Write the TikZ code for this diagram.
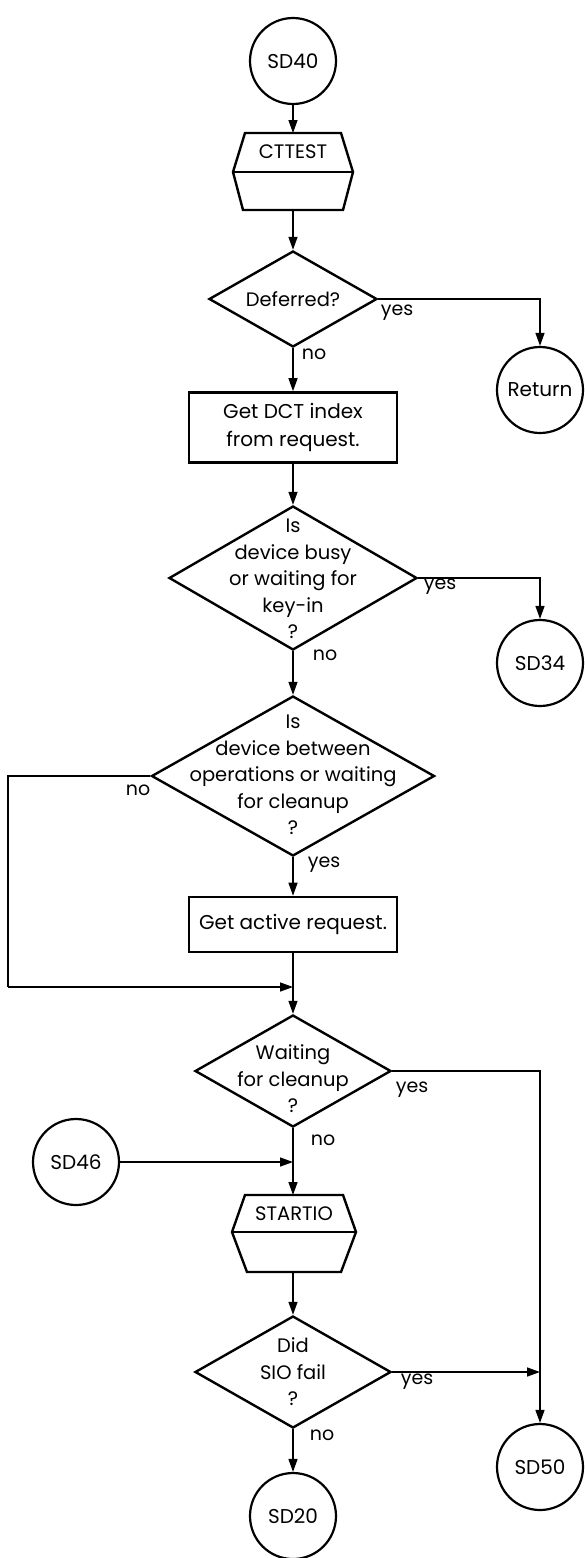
\documentclass[tikz,border=0pt]{standalone}
\usepackage{fontspec}
\setmainfont{Poppins}
\usetikzlibrary{arrows.meta,shapes.geometric}
\tikzset{
  txt/.style={font=\fontsize{19.5}{26.5}\selectfont, align=center, inner sep=0pt},
  lbl/.style={font=\fontsize{19}{20}\selectfont, inner sep=0pt},
  conn/.style={line width=1.4pt, -{Triangle[length=13pt,width=9pt]}},
  plain/.style={line width=1.4pt},
  term/.style={circle, draw, line width=2.2pt, minimum size=86pt, inner sep=0pt, font=\fontsize{20}{22}\selectfont},
  dec/.style={diamond, draw, line width=2.4pt, inner sep=0pt},
  proc/.style={rectangle, draw, line width=2.6pt, inner sep=0pt, minimum width=208pt, font=\fontsize{20}{28}\selectfont, align=center},
  hexa/.style={draw, line width=2.4pt, line join=miter}
}
\begin{document}
\begin{tikzpicture}[x=1pt,y=-1pt]
\useasboundingbox (0,0) rectangle (584,1558);
% terminals
\node[term] (sd40) at (293,61) {SD40};
\node[term] (ret) at (540,390) {Return};
\node[term] (sd34) at (540,663) {SD34};
\node[term] (sd46) at (76,1162) {SD46};
\node[term] (sd50) at (540,1467) {SD50};
\node[term] (sd20) at (293,1516) {SD20};
% CTTEST hexagon
\coordinate (ctt) at (293,133);
\coordinate (ctb) at (293,210);
\draw[hexa] (245,133) -- (341,133) -- (353,172) -- (343,210) -- (243,210) -- (233,172) -- cycle;
\draw[hexa] (233,172) -- (353,172);
\node[txt] (ct) at (293,152) {CTTEST};
% Deferred
\node[dec, minimum width=168pt, minimum height=96pt] (d1) at (293,299) {};
\node[txt] (d1t) at (d1) {Deferred?};
% Get DCT index box
\node[proc, minimum height=70pt] (b1) at (293,427.5) {Get DCT index\\from request.};
% busy diamond
\node[dec, minimum width=248pt, minimum height=144pt] (d2) at (293,578) {};
\node[txt] (d2t) at (293,579) {Is\\device busy\\or waiting for\\key-in\\?};
% between diamond
\node[dec, minimum width=283pt, minimum height=160pt] (d3) at (293,776) {};
\node[txt] (d3t) at (293,775) {Is\\device between\\operations or waiting\\for cleanup\\?};
% Get active request box
\node[proc, minimum height=55pt] (b2) at (293,924.5) {Get active request.};
% Waiting diamond
\node[dec, minimum width=196pt, minimum height=112pt] (d4) at (293,1071) {};
\node[txt] (d4t) at (293,1079) {Waiting\\for cleanup\\?};
% STARTIO hexagon
\coordinate (stt) at (293,1195);
\coordinate (stb) at (293,1272);
\draw[hexa] (245,1195) -- (343,1195) -- (356,1232) -- (341,1272) -- (247,1272) -- (232,1232) -- cycle;
\draw[hexa] (232,1232) -- (356,1232);
\node[txt] (st) at (294,1214) {STARTIO};
% Did diamond
\node[dec, minimum width=196pt, minimum height=112pt] (d5) at (293,1372) {};
\node[txt] (d5t) at (293,1372) {Did\\SIO fail\\?};
% junction coordinates
\coordinate (lc) at (8,987);
\coordinate (m1) at (293,987);
\coordinate (m2) at (293,1162);
\coordinate (m3) at (540,1372);
% connectors
\draw[conn] (sd40) -- (ctt);
\draw[conn] (ctb) -- (d1.north);
\draw[conn] (d1.east) -| (ret.north);
\draw[conn] (d1.south) -- (b1.north);
\draw[conn] (b1.south) -- (d2.north);
\draw[conn] (d2.east) -| (sd34.north);
\draw[conn] (d2.south) -- (d3.north);
\draw[conn] (d3.south) -- (b2.north);
\draw[plain] (d3.west) -| (lc);
\draw[conn] (lc) -- (m1);
\draw[conn] (b2.south) -- (d4.north);
\draw[conn] (d4.east) -| (sd50.north);
\draw[conn] (sd46) -- (m2);
\draw[conn] (d4.south) -- (stt);
\draw[conn] (stb) -- (d5.north);
\draw[conn] (d5.east) -- (m3);
\draw[conn] (d5.south) -- (sd20.north);
% labels
\node[lbl] (l1) at (397,313) {yes};
\node[lbl] (l2) at (314,354) {no};
\node[lbl] (l3) at (440,587) {yes};
\node[lbl] (l4) at (325,655) {no};
\node[lbl] (l5) at (138,790) {no};
\node[lbl] (l6) at (324,865) {yes};
\node[lbl] (l7) at (412,1090) {yes};
\node[lbl] (l8) at (323,1140) {no};
\node[lbl] (l9) at (417,1382) {yes};
\node[lbl] (l10) at (322,1435) {no};
\end{tikzpicture}
\end{document}
